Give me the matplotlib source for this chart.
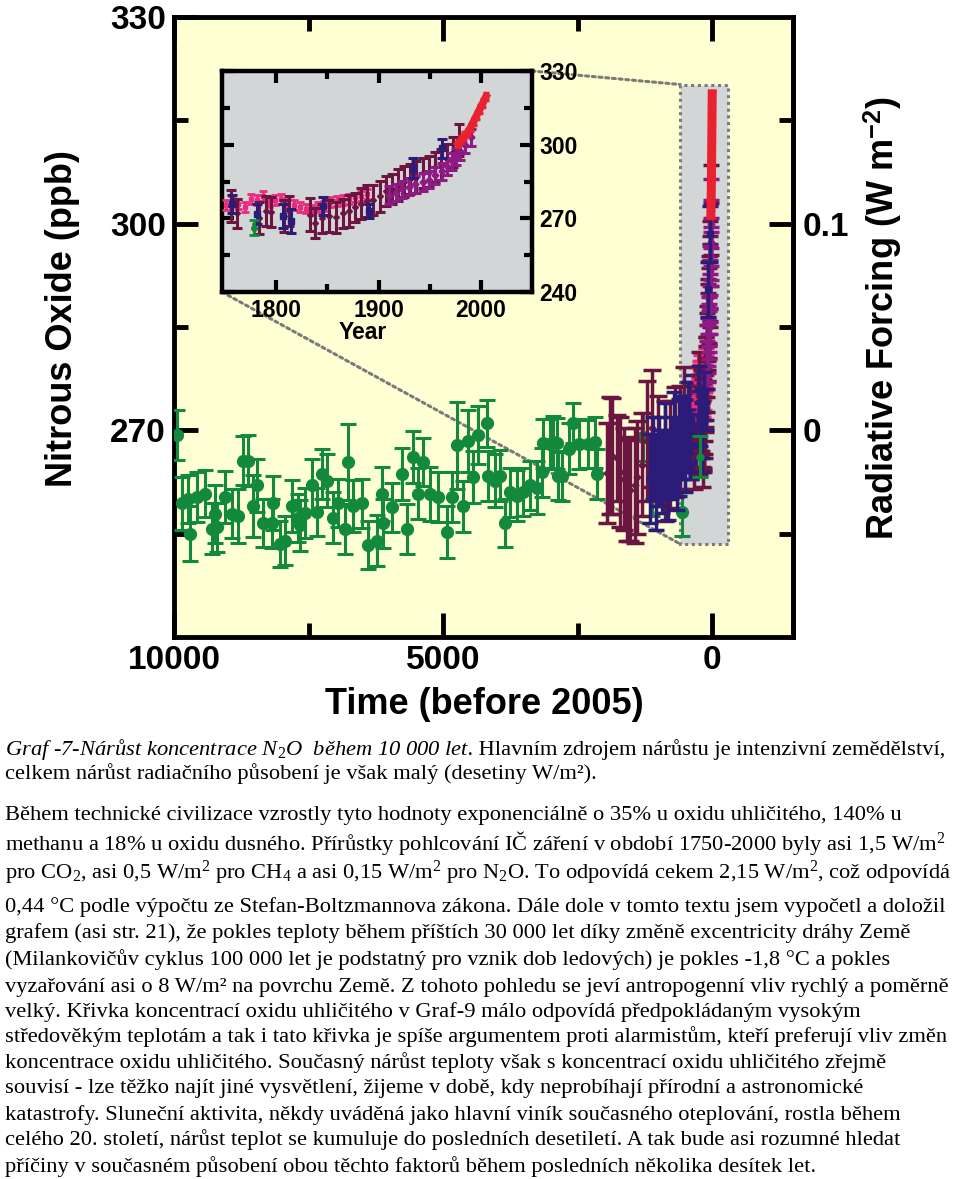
import matplotlib
matplotlib.use('Agg')
import matplotlib.pyplot as plt
from matplotlib.patches import Rectangle, ConnectionPatch
from matplotlib.ticker import FixedLocator

plt.rcParams['font.family'] = ['Liberation Sans', 'DejaVu Sans']
plt.rcParams['mathtext.fontset'] = 'custom'
plt.rcParams['mathtext.rm'] = 'Liberation Serif'
plt.rcParams['mathtext.it'] = 'Liberation Serif:italic'
plt.rcParams['mathtext.bf'] = 'Liberation Sans:bold'

# ---------------- data: main panel (years before 2005, ppb) ----------------
green_age = [9950, 9860, 9740, 9700, 9580, 9425, 9300, 9240, 9210, 9050, 8930, 8810,
             8720, 8620, 8530, 8465, 8340, 8180, 8160, 8030, 7940, 7810, 7700, 7660,
             7565, 7440, 7350, 7255, 7160, 7040, 6950, 6820, 6765, 6670, 6510, 6390,
             6230, 6140, 6115, 5955, 5770, 5675, 5560, 5465, 5370, 5240, 5090, 4930,
             4840, 4745, 4630, 4535, 4440, 4350, 4190, 4160, 4035, 3940, 3850, 3755,
             3630, 3510, 3385, 3260, 3165, 3140, 3010, 2955, 2890, 2860, 2795, 2670,
             2580, 2485, 2300, 2175, 2145, 1280, 1120, 565]
green_ppb = [269.3, 259.4, 260.0, 255.0, 260.3, 260.8, 255.7, 257.9, 255.9, 260.3, 257.9, 257.6,
             265.6, 265.6, 259.0, 262.0, 256.5, 256.5, 259.4, 253.5, 254.0, 259.0, 257.3, 256.2,
             258.0, 262.0, 258.1, 263.7, 262.7, 257.3, 259.4, 255.7, 265.4, 259.0, 259.4, 253.3,
             254.0, 260.8, 256.5, 258.8, 263.7, 255.7, 266.1, 260.8, 265.4, 260.8, 260.3, 255.2,
             260.3, 267.8, 259.0, 268.5, 263.2, 269.3, 271.0, 263.4, 262.7, 263.4, 256.5, 261.0,
             260.5, 261.0, 262.0, 261.7, 263.9, 268.1, 268.0, 268.3, 268.1, 263.4, 263.4, 267.3,
             271.0, 268.0, 268.0, 268.3, 263.7, 269.0, 261.3, 258.1]
green_err = [3.6, 3.8, 3.5, 4.0, 3.6, 3.4, 3.7, 4.2, 3.5, 3.8, 3.6, 3.9,
             3.6, 3.7, 4.5, 3.8, 3.5, 3.6, 3.9, 3.4, 3.6, 3.8, 3.5, 3.7,
             3.6, 3.9, 3.5, 3.6, 3.8, 3.7, 3.5, 3.6, 5.5, 3.8, 3.6, 3.5,
             3.7, 3.9, 3.6, 3.5, 3.8, 3.6, 3.8, 3.7, 3.5, 3.9, 3.6, 3.8,
             3.6, 6.3, 3.7, 4.5, 3.8, 4.2, 3.4, 3.6, 3.8, 3.7, 3.5, 3.6,
             3.7, 3.5, 3.6, 3.8, 3.6, 3.5, 3.6, 3.8, 3.7, 3.5, 3.6, 3.7,
             2.9, 3.6, 3.5, 3.7, 3.6, 3.5, 3.7, 3.4]

maroon_age = [1960, 1900, 1865, 1772, 1710, 1648, 1590, 1524, 1431, 1400, 1300, 1214,
              1121, 1000, 874, 780, 688, 600, 533, 420, 330]
maroon_ppb = [263.8, 266.4, 266.3, 266.0, 264.0, 262.9, 261.5, 261.3, 262.0, 263.2, 265.0, 268.5,
              270.3, 267.0, 265.6, 266.5, 268.3, 269.0, 271.9, 270.0, 268.0]
maroon_err = [7.2, 8.5, 8.4, 6.2, 8.0, 7.4, 7.5, 7.3, 8.3, 8.2, 7.5, 8.7,
              8.5, 8.0, 8.7, 7.8, 8.0, 7.5, 7.3, 7.0, 6.5]

blue_age = [1150, 1100, 1040, 990, 930, 880, 820, 770, 710, 660, 610, 560, 500, 450,
            400, 350, 300, 260]
blue_ppb = [263.0, 266.0, 262.5, 265.5, 264.0, 267.0, 263.5, 266.0, 268.0, 265.0, 267.5,
            269.0, 268.0, 270.5, 269.0, 271.0, 270.0, 272.0]
blue_err = [6.5, 6.0, 7.0, 6.5, 6.0, 7.0, 6.5, 6.0, 7.5, 6.5, 7.0, 6.0, 7.0, 6.5,
            6.0, 7.0, 6.5, 6.0]

# ---------------- data: 1750-2005 (calendar year, ppb) ----------------
pink_year = [1751, 1757, 1763, 1769, 1775, 1781, 1787, 1793, 1799, 1805, 1811, 1817,
             1823, 1829, 1835, 1841, 1847, 1853, 1859, 1865, 1871, 1877, 1883, 1889]
pink_ppb = [275.5, 277.0, 276.0, 274.5, 278.0, 277.5, 279.0, 276.5, 277.5, 278.0, 276.0, 275.5,
            274.5, 274.0, 273.5, 274.5, 275.0, 276.5, 277.0, 277.5, 278.0, 278.5, 279.0, 280.0]
pink_err = [2.0] * len(pink_year)

im_year = [1756, 1762, 1783, 1790, 1795, 1808, 1812, 1833, 1838, 1845, 1852, 1858,
           1865, 1871, 1877, 1883, 1889, 1895, 1901, 1907, 1913, 1919, 1925, 1931,
           1937, 1943, 1949, 1955, 1961, 1967, 1973, 1979]
im_ppb = [275.0, 272.0, 270.0, 273.0, 272.5, 271.0, 273.0, 271.5, 268.0, 270.0, 271.0, 270.5,
          272.0, 273.0, 274.5, 276.0, 277.0, 277.5, 279.0, 281.0, 282.0, 283.5, 285.0, 286.0,
          287.0, 288.5, 289.0, 291.0, 292.0, 294.0, 297.0, 302.0]
im_err = [6.4, 6.0, 6.5, 6.0, 6.2, 6.5, 6.0, 6.8, 6.2, 6.0, 6.5, 6.3,
          6.0, 6.4, 6.0, 6.2, 6.5, 6.0, 6.3, 6.1, 6.0, 6.4, 6.2, 6.0,
          6.5, 6.1, 6.3, 6.0, 6.2, 6.4, 6.0, 6.5]

ib_year = [1757, 1781, 1807, 1814, 1846, 1891, 1934, 1962]
ib_ppb = [275.8, 271.7, 271.0, 269.0, 275.0, 273.0, 290.5, 298.5]
ib_err = [3.5, 4.0, 5.0, 5.0, 3.5, 3.0, 4.0, 4.0]

ip_year = [1910, 1917, 1923, 1930, 1936, 1943, 1949, 1955, 1962, 1967, 1972, 1976,
           1980, 1985, 1990]
ip_ppb = [279.5, 280.5, 281.8, 282.8, 283.8, 284.8, 285.8, 287.5, 289.2, 291.2, 293.2,
          295.3, 297.3, 300.0, 303.0]
ip_err = [3.5] * len(ip_year)

ig_year = [1778]
ig_ppb = [266.2]
ig_err = [3.0]

red_year = [1978, 1981, 1984, 1987, 1990, 1993, 1996, 1999, 2002, 2005]
red_ppb = [300.5, 302.0, 303.5, 305.0, 307.0, 309.5, 312.0, 314.5, 317.0, 319.5]
red_err = [1.5] * len(red_year)

REF_YEAR = 2005
GREEN = '#12893C'
MAROON = '#6A1641'
BLUE = '#2A1C78'
PINK = '#EC2A7E'
PURPLE = '#8E1A84'
RED = '#E8232F'
YELLOW = '#FFFFD4'
GRAY = '#D3D6D6'

W, H = 960, 1179
fig = plt.figure(figsize=(W / 100, H / 100), dpi=100)


def fx(px):
    return px / W


def fy(py):
    return 1 - py / H


def ebar(a, x, y, e, color, marker, ms, cap, lw, z):
    a.errorbar(x, y, yerr=e, fmt=marker, color=color, mfc=color, mec=color, ms=ms,
               capsize=cap, elinewidth=lw, capthick=lw, zorder=z)


# ---------------- main axes ----------------
ax = fig.add_axes([fx(174), fy(637), (793 - 174) / W, (637 - 17) / H])
ax.set_facecolor(YELLOW)
ax.set_xlim(10000, -1500)
ax.set_ylim(240, 330)
for s in ax.spines.values():
    s.set_linewidth(3.5)

TL = 24
ax.set_xticks([10000, 5000, 0], labels=['10000', '5000', '0'], fontsize=TL, fontweight='bold')
ax.xaxis.set_minor_locator(FixedLocator([7500, 2500]))
ax.set_yticks([270, 300, 330], labels=['270', '300', '330'], fontsize=TL, fontweight='bold')
ax.yaxis.set_minor_locator(FixedLocator([255, 285, 315]))
ax.tick_params(which='major', direction='in', length=17, width=3.5, pad=6, top=True, right=False)
ax.tick_params(which='minor', direction='in', length=10, width=3.5, top=True, right=False)

sec = ax.secondary_yaxis('right', functions=(lambda c: (c - 270) / 300.0,
                                             lambda r: 270 + 300.0 * r))
sec.set_yticks([0, 0.1], labels=['0', '0.1'], fontsize=TL, fontweight='bold')
sec.yaxis.set_minor_locator(FixedLocator([-0.05, 0.05, 0.15]))
sec.tick_params(which='major', direction='in', length=17, width=3.5, pad=7)
sec.tick_params(which='minor', direction='in', length=10, width=3.5)
sec.spines['right'].set_linewidth(3.5)

# highlighted 1750-2005 region
rect_age0, rect_age1 = 595, -297
rect_lo, rect_hi = 253.5, 320.2
ax.add_patch(Rectangle((rect_age1, rect_lo), rect_age0 - rect_age1, rect_hi - rect_lo,
                       facecolor=GRAY, edgecolor='#7A7A7A', linestyle=(0, (1, 1.2)),
                       linewidth=2.2, zorder=1))

ebar(ax, green_age, green_ppb, green_err, GREEN, 'o', 8.5, 5.5, 2.2, 3)
ebar(ax, maroon_age, maroon_ppb, maroon_err, MAROON, 'D', 3.5, 6.5, 2.5, 4)
ebar(ax, blue_age, blue_ppb, blue_err, BLUE, 's', 4, 5.5, 2.5, 5)


def age(years):
    return [REF_YEAR - y for y in years]


ebar(ax, age(pink_year), pink_ppb, pink_err, PINK, 's', 3.5, 5.5, 2.5, 5.2)
ebar(ax, age(im_year), im_ppb, im_err, MAROON, 'D', 3.5, 5.5, 2.5, 5.4)
ebar(ax, age(ip_year), ip_ppb, ip_err, PURPLE, 'D', 3.5, 5.5, 2.5, 5.6)
ebar(ax, age(ib_year), ib_ppb, ib_err, BLUE, 's', 4, 5.5, 2.5, 5.8)
ebar(ax, age(ig_year), ig_ppb, ig_err, GREEN, 'o', 5, 5.5, 2.2, 5.9)
ax.plot(age(red_year), red_ppb, color=RED, lw=6.5, solid_capstyle='butt', zorder=6)

# ---------------- inset ----------------
axin = fig.add_axes([fx(222), fy(292), (532 - 222) / W, (292 - 71) / H])
axin.set_facecolor(GRAY)
axin.set_xlim(1747, 2050)
axin.set_ylim(240, 330)
for s in axin.spines.values():
    s.set_linewidth(3.2)
IL = 16.5
axin.set_xticks([1800, 1900, 2000], labels=['1800', '1900', '2000'], fontsize=IL, fontweight='bold')
axin.xaxis.set_minor_locator(FixedLocator([1850, 1950]))
axin.set_yticks([240, 270, 300, 330], labels=['240', '270', '300', '330'], fontsize=IL,
                fontweight='bold')
axin.yaxis.set_minor_locator(FixedLocator([255, 285, 315]))
axin.tick_params(which='major', direction='in', length=8.5, width=3, pad=5,
                 top=True, right=True, left=True, labelleft=False, labelright=True)
axin.tick_params(which='minor', direction='in', length=5.5, width=3,
                 top=True, right=True, left=True)

ebar(axin, pink_year, pink_ppb, pink_err, PINK, 's', 3.5, 3, 2.0, 3)
ebar(axin, im_year, im_ppb, im_err, MAROON, 'D', 3, 3.5, 2.2, 4)
ebar(axin, ip_year, ip_ppb, ip_err, PURPLE, 'D', 3.5, 3.5, 2.2, 4.5)
ebar(axin, ib_year, ib_ppb, ib_err, BLUE, 's', 4, 3.5, 2.2, 5)
ebar(axin, ig_year, ig_ppb, ig_err, GREEN, 'o', 4, 3.5, 2.0, 6)
ebar(axin, red_year, red_ppb, red_err, RED, 'none', 0, 2.5, 2.5, 7)
axin.plot(red_year, red_ppb, color=RED, lw=5.5, zorder=7)

fig.text(fx(363), fy(332), 'Year', ha='center', va='center', fontsize=IL, fontweight='bold')

# dotted connectors
for xa, xb in [((1, 1), (rect_age0, rect_hi)), ((0, 0), (rect_age0, rect_lo))]:
    con = ConnectionPatch(xyA=xa, coordsA=axin.transAxes, xyB=xb, coordsB=ax.transData,
                          color='#7A7A7A', linestyle=(0, (1, 1.2)), linewidth=2.2, zorder=1.5)
    con.set_clip_on(False)
    ax.add_artist(con)

# axis labels
fig.text(fx(63), fy(319), 'Nitrous Oxide (ppb)', rotation=90, ha='center', va='center',
         fontsize=26, fontweight='bold')
fig.text(fx(484), fy(704), 'Time (before 2005)', ha='center', va='center',
         fontsize=26, fontweight='bold')
fig.text(fx(883), fy(318), r'Radiative Forcing (W m$^{\mathbf{-2}}$)', rotation=90,
         ha='center', va='center', fontsize=26, fontweight='bold')

# ---------------- paragraph below the chart ----------------
FS = 16.2
serif = ['Liberation Serif', 'DejaVu Serif']
lines = [
    (755, [("Graf -7-Nárůst koncentrace N$_2$O  během 10 000 let.", 'italic'),
           (" Hlavním zdrojem nárůstu je intenzivní zemědělství,", 'normal')]),
    (779, [("celkem nárůst radiačního působení je však malý (desetiny W/m²).", 'normal')]),
    (820, [("Během technické civilizace vzrostly tyto hodnoty exponenciálně o 35% u oxidu uhličitého, 140% u", 'normal')]),
    (850, [("methanu a 18% u oxidu dusného. Přírůstky pohlcování IČ záření v období 1750-2000 byly asi 1,5 W/m$^2$", 'normal')]),
    (879, [("pro CO$_2$, asi 0,5 W/m$^2$ pro CH$_4$ a asi 0,15 W/m$^2$ pro N$_2$O. To odpovídá cekem 2,15 W/m$^2$, což odpovídá", 'normal')]),
    (912, [("0,44 °C podle výpočtu ze Stefan-Boltzmannova zákona. Dále dole v tomto textu jsem vypočetl a doložil", 'normal')]),
    (938, [("grafem (asi str. 21), že pokles teploty během příštích 30 000 let díky změně excentricity dráhy Země", 'normal')]),
    (965, [("(Milankovičův cyklus 100 000 let je podstatný pro vznik dob ledových) je pokles -1,8 °C a pokles", 'normal')]),
    (992, [("vyzařování asi o 8 W/m² na povrchu Země. Z tohoto pohledu se jeví antropogenní vliv rychlý a poměrně", 'normal')]),
    (1017, [("velký. Křivka koncentrací oxidu uhličitého v Graf-9 málo odpovídá předpokládaným vysokým", 'normal')]),
    (1042, [("středověkým teplotám a tak i tato křivka je spíše argumentem proti alarmistům, kteří preferují vliv změn", 'normal')]),
    (1068, [("koncentrace oxidu uhličitého. Současný nárůst teploty však s koncentrací oxidu uhličitého zřejmě", 'normal')]),
    (1093, [("souvisí - lze těžko najít jiné vysvětlení, žijeme v době, kdy neprobíhají přírodní a astronomické", 'normal')]),
    (1120, [("katastrofy. Sluneční aktivita, někdy uváděná jako hlavní viník současného oteplování, rostla během", 'normal')]),
    (1145, [("celého 20. století, nárůst teplot se kumuluje do posledních desetiletí. A tak bude asi rozumné hledat", 'normal')]),
    (1172, [("příčiny v současném působení obou těchto faktorů během posledních několika desítek let.", 'normal')]),
]

renderer = fig.canvas.get_renderer()
for base, pieces in lines:
    x = 5
    for txt, style in pieces:
        t = fig.text(fx(x), fy(base), txt, ha='left', va='baseline', fontsize=FS,
                     family=serif, style=style, fontweight='normal')
        bb = t.get_window_extent(renderer=renderer)
        x = bb.x1

fig.savefig('out.png', dpi=100)
